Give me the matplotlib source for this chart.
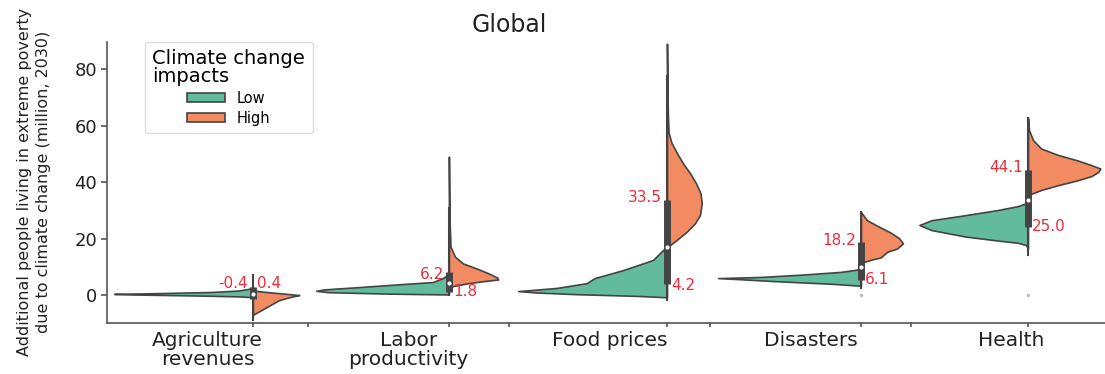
import matplotlib
matplotlib.use("Agg")
import matplotlib.pyplot as plt
from matplotlib.patches import Patch

plt.rcParams["font.family"] = ["DejaVu Sans"]

categories = ["Agriculture\nrevenues", "Labor\nproductivity", "Food prices", "Disasters", "Health"]
violin_x = [0.226, 1.201, 2.286, 3.251, 4.082]  # where each split violin sits inside its category cell

# violin outlines: value (million) and half width (category units)
agri_low_y = [-0.8, -0.5, -0.2, 0.2, 0.4, 0.7, 1.1, 1.6, 2.2, 2.8]
agri_low_w = [0.0, 0.06, 0.25, 0.6, 0.69, 0.45, 0.2, 0.07, 0.02, 0.0]
agri_high_y = [-7.0, -6.0, -4.2, -1.8, -0.8, -0.3, 0.0, 0.4, 0.8, 1.2, 1.6]
agri_high_w = [0.0, 0.025, 0.07, 0.13, 0.18, 0.21, 0.23, 0.17, 0.11, 0.05, 0.0]

labor_low_y = [0.2, 0.5, 1.0, 1.5, 2.0, 2.8, 3.8, 4.6, 6.0, 7.5]
labor_low_w = [0.0, 0.3, 0.6, 0.66, 0.62, 0.45, 0.25, 0.08, 0.03, 0.0]
labor_high_y = [2.9, 4.1, 4.9, 5.5, 6.2, 7.6, 9.4, 11.2, 13.6, 17.1, 25.0, 35.0, 49.0]
labor_high_w = [0.0, 0.088, 0.17, 0.245, 0.24, 0.20, 0.138, 0.07, 0.03, 0.008, 0.004, 0.002, 0.0]

food_low_y = [-0.8, -0.3, 0.3, 0.9, 1.4, 2.5, 4.2, 6.0, 8.8, 12.4, 16.6, 20.0]
food_low_w = [0.0, 0.15, 0.45, 0.65, 0.74, 0.55, 0.40, 0.36, 0.22, 0.07, 0.01, 0.0]
food_high_y = [16.8, 19.5, 22.4, 25.4, 28.3, 32.4, 36.0, 39.5, 43.1, 46.6, 50.2, 54.0, 57.5, 65.0, 77.0, 89.0]
food_high_w = [0.0, 0.048, 0.098, 0.139, 0.164, 0.173, 0.167, 0.145, 0.115, 0.08, 0.05, 0.022, 0.008, 0.004, 0.002, 0.0]

dis_low_y = [3.3, 4.0, 5.0, 5.6, 6.0, 6.4, 7.2, 8.2, 9.0, 10.0]
dis_low_w = [0.0, 0.15, 0.45, 0.6, 0.71, 0.5, 0.3, 0.1, 0.02, 0.0]
dis_high_y = [11.4, 12.6, 13.3, 15.3, 16.5, 18.3, 20.1, 22.1, 24.2, 26.5, 28.9, 29.4]
dis_high_w = [0.0, 0.055, 0.098, 0.13, 0.18, 0.209, 0.19, 0.148, 0.09, 0.03, 0.005, 0.0]

health_low_y = [16.5, 17.7, 18.5, 19.3, 20.7, 23.0, 24.8, 26.5, 28.3, 30.1, 31.5, 32.5, 33.2]
health_low_w = [0.0, 0.01, 0.05, 0.15, 0.31, 0.48, 0.54, 0.48, 0.31, 0.15, 0.05, 0.01, 0.0]
health_high_y = [35.4, 37.2, 38.9, 40.7, 42.1, 43.6, 44.8, 46.0, 47.6, 49.6, 51.9, 54.9, 58.4, 62.7]
health_high_w = [0.0, 0.065, 0.15, 0.25, 0.315, 0.35, 0.36, 0.315, 0.25, 0.15, 0.065, 0.025, 0.005, 0.0]

low_y = [agri_low_y, labor_low_y, food_low_y, dis_low_y, health_low_y]
low_w = [agri_low_w, labor_low_w, food_low_w, dis_low_w, health_low_w]
high_y = [agri_high_y, labor_high_y, food_high_y, dis_high_y, health_high_y]
high_w = [agri_high_w, labor_high_w, food_high_w, dis_high_w, health_high_w]

# inner box of each violin
box_lo = [-1.5, 1.1, 3.8, 5.3, 24.0]
box_hi = [3.0, 8.1, 33.6, 18.8, 44.2]
box_med = [0.5, 4.2, 17.0, 9.9, 33.6]
whisk_lo = [-8.8, 0.0, -1.8, 2.5, 14.2]
whisk_hi = [7.0, 30.8, 77.5, 29.4, 62.7]

# medians written next to the violins
high_med = [-0.4, 6.2, 33.5, 18.2, 44.1]
low_med = [0.4, 1.8, 4.2, 6.1, 25.0]

green = "#62bb9c"
orange = "#f28b62"
edge = "#444444"
red = "#ee2b3b"

fig = plt.figure(figsize=(11.05, 3.74), dpi=100)
ax = fig.add_axes([107 / 1105, 1 - 323 / 374, 1005 / 1105, 281 / 374])

for i, x in enumerate(violin_x):
    lx = [x - w for w in low_w[i]]
    ax.fill_betweenx(low_y[i], lx, x, facecolor=green, edgecolor=edge, linewidth=1.2, zorder=2)
    hx = [x + w for w in high_w[i]]
    ax.fill_betweenx(high_y[i], x, hx, facecolor=orange, edgecolor=edge, linewidth=1.2, zorder=2)
    # whisker, box and median dot
    ax.plot([x, x], [whisk_lo[i], whisk_hi[i]], color=edge, linewidth=1.5, zorder=3)
    ax.plot([x, x], [box_lo[i], box_hi[i]], color=edge, linewidth=5, solid_capstyle="butt", zorder=4)
    ax.scatter([x], [box_med[i]], s=9, color="white", zorder=5, linewidths=0)

    # red median labels: High on the left, Low on the right
    ly = high_med[i] + 1.0
    ry = low_med[i] - 0.7
    if i == 0:
        ly = ry = 4.2
    ax.text(x - 0.025, ly, f"{high_med[i]:.1f}", color=red, fontsize=11, ha="right", va="center", zorder=6)
    ax.text(x + 0.02, ry, f"{low_med[i]:.1f}", color=red, fontsize=11, ha="left", va="center", zorder=6)

# the two tiny stray points at zero
ax.scatter([violin_x[3], violin_x[4]], [0, 0], s=2, color="#bbbbbb", zorder=2)

ax.set_xlim(-0.5, 4.5)
ax.set_ylim(-9.9, 89.6)
ax.set_yticks([0, 20, 40, 60, 80])
ax.set_xticks(range(len(categories)))
ax.set_xticklabels(categories, fontsize=14.5, linespacing=0.95, color="#222222")
ax.set_xticks(violin_x + [0.5, 1.5, 2.5, 3.5], minor=True)
ax.tick_params(axis="x", which="major", length=0, pad=6)
ax.tick_params(axis="x", which="minor", length=3, width=1.2, color="#555555")
ax.tick_params(axis="y", labelsize=13, length=4, width=1.2, color="#555555", pad=3, labelcolor="#222222")

for s in ["top", "right"]:
    ax.spines[s].set_visible(False)
for s in ["left", "bottom"]:
    ax.spines[s].set_color("#555555")
    ax.spines[s].set_linewidth(1.2)

ax.set_title("Global", fontsize=17, x=0.4, pad=7, color="#222222")
fig.text(34 / 1105, 1 - 182 / 374,
         "Additional people living in extreme poverty\ndue to climate change (million, 2030)",
         rotation=90, ha="center", va="center", multialignment="center",
         fontsize=11.5, linespacing=1.3, color="#222222")

handles = [Patch(facecolor=green, edgecolor=edge, linewidth=1.2),
           Patch(facecolor=orange, edgecolor=edge, linewidth=1.2)]
leg = ax.legend(handles, ["Low", "High"], title="Climate change\nimpacts",
                loc="upper left", bbox_to_anchor=(0.038, 1.0), borderaxespad=0,
                fontsize=10.5, title_fontsize=14, handlelength=2.6, handleheight=0.6,
                labelspacing=0.35, borderpad=0.5, frameon=True, framealpha=1.0)
leg.get_title().set_linespacing(0.9)
leg.get_frame().set_edgecolor("#dddddd")

fig.savefig("out.png", dpi=100)
